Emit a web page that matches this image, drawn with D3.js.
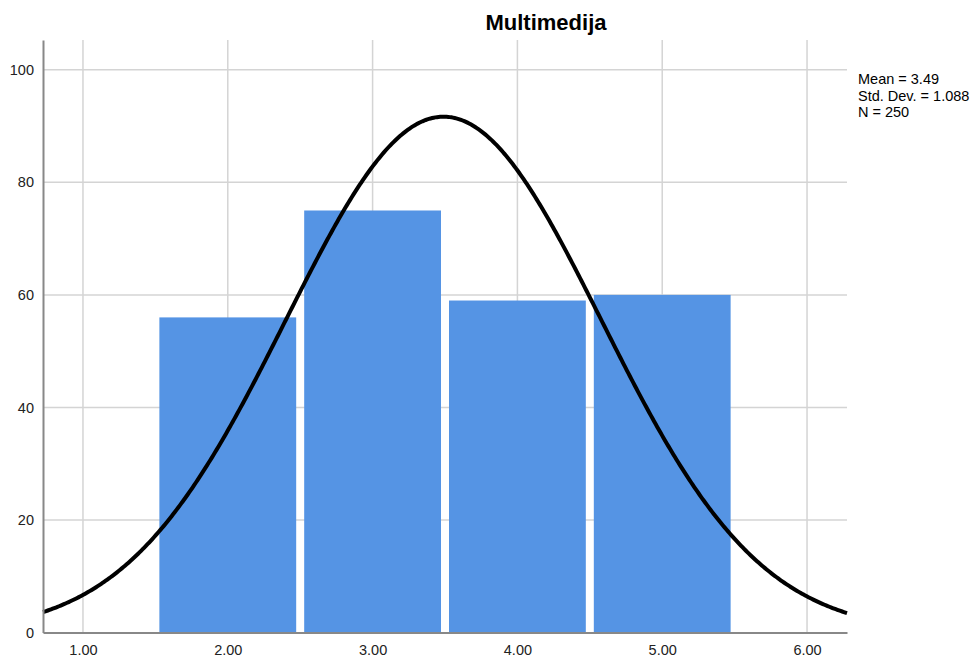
<!DOCTYPE html>
<html><head><meta charset="utf-8">
<script src="https://cdn.jsdelivr.net/npm/d3@7"></script>
<style>body{margin:0;background:#fff;} text{font-family:"Liberation Sans",Arial,sans-serif;}</style>
</head><body>
<svg id="c" width="979" height="661"></svg>
<script>
const title = "Multimedija";
const binCenters = [2, 3, 4, 5];
const counts = [56, 75, 59, 60];
const binWidth = 1;
const xTicks = [1, 2, 3, 4, 5, 6];
const yTicks = [0, 20, 40, 60, 80, 100];
const mean = 3.49, sd = 1.088, N = 250;
const statLines = ["Mean = 3.49", "Std. Dev. = 1.088", "N = 250"];

const svg = d3.select("#c");
const L = 43, R = 847, T = 40, B = 632.5;
const x = d3.scaleLinear().domain([0.724, 6.276]).range([L, R]);
const y = d3.scaleLinear().domain([0, 105.3]).range([B, T]);

// grid
svg.append("g").selectAll("line.v").data(xTicks).join("line")
  .attr("x1", d => x(d)).attr("x2", d => x(d)).attr("y1", T).attr("y2", B)
  .attr("stroke", "#d4d4d4").attr("stroke-width", 1.5);
svg.append("g").selectAll("line.h").data(yTicks.filter(d => d > 0)).join("line")
  .attr("x1", L).attr("x2", R).attr("y1", d => y(d)).attr("y2", d => y(d))
  .attr("stroke", "#d4d4d4").attr("stroke-width", 1.5);

// bars
const inset = 4;
svg.append("g").selectAll("rect").data(binCenters).join("rect")
  .attr("x", (d) => x(d - binWidth / 2) + inset)
  .attr("width", x(binWidth) - x(0) - 2 * inset)
  .attr("y", (d, i) => y(counts[i]))
  .attr("height", (d, i) => y(0) - y(counts[i]))
  .attr("fill", "#5594e4");

// normal curve
const pts = d3.range(0, 501).map(i => {
  const xv = 0.724 + (6.276 - 0.724) * i / 500;
  const yv = N * binWidth / (sd * Math.sqrt(2 * Math.PI)) * Math.exp(-0.5 * ((xv - mean) / sd) ** 2);
  return [xv, yv];
});
svg.append("path").datum(pts)
  .attr("d", d3.line().x(d => x(d[0])).y(d => y(d[1])))
  .attr("fill", "none").attr("stroke", "#000").attr("stroke-width", 4);

// axes
const ax = svg.append("g").attr("transform", `translate(0,${B})`)
  .call(d3.axisBottom(x).tickValues(xTicks).tickFormat(d3.format(".2f")).tickSize(0).tickPadding(12));
ax.select(".domain").attr("stroke", "#888").attr("stroke-width", 2);
ax.selectAll("text").attr("font-size", 14.5).attr("fill", "#222").attr("font-family", "Liberation Sans, Arial, sans-serif");
const ay = svg.append("g").attr("transform", `translate(${L},0)`)
  .call(d3.axisLeft(y).tickValues(yTicks).tickFormat(d3.format("d")).tickSize(0).tickPadding(9));
ay.select(".domain").attr("stroke", "#888").attr("stroke-width", 2);
ay.selectAll("text").attr("font-size", 14.5).attr("fill", "#222").attr("font-family", "Liberation Sans, Arial, sans-serif");

// title
svg.append("text").attr("x", 546).attr("y", 30).attr("text-anchor", "middle")
  .attr("font-size", 22).attr("font-weight", "bold").attr("fill", "#000").text(title);

// stats
svg.append("g").selectAll("text").data(statLines).join("text")
  .attr("x", 858).attr("y", (d, i) => 84 + i * 16.5)
  .attr("font-size", 14.5).attr("fill", "#000").text(d => d);
</script>
</body></html>
